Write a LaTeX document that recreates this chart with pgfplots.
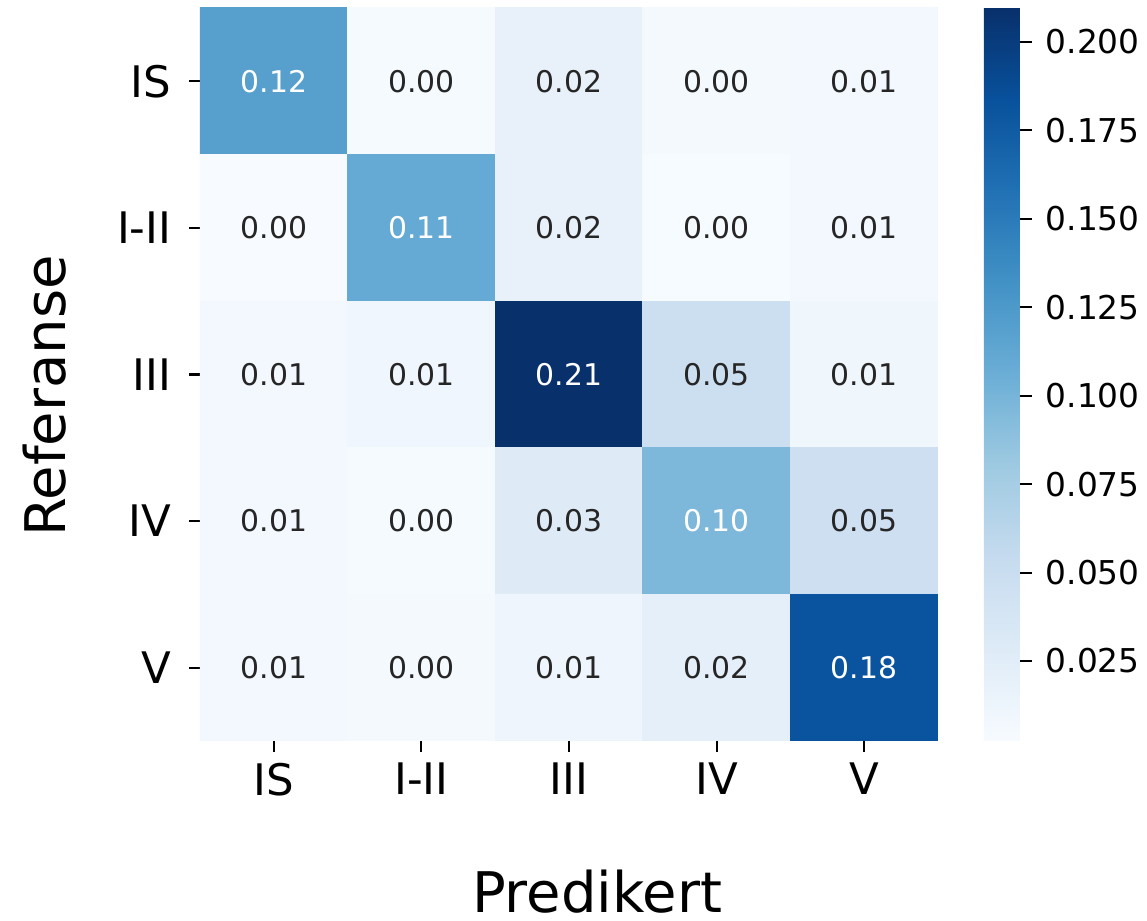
\documentclass[border=0pt]{standalone}
\usepackage{pgfplots}
\pgfplotsset{compat=1.18}
\usepackage{fontspec}
\setmainfont{DejaVu Sans}
\definecolor{darktext}{RGB}{38,38,38}
\pgfplotsset{
  colormap={sbblues}{rgb255=(247,251,255) rgb255=(222,235,247) rgb255=(198,219,239) rgb255=(158,202,225) rgb255=(107,174,214) rgb255=(66,146,198) rgb255=(33,113,181) rgb255=(8,81,156) rgb255=(8,48,107)}
}
\begin{document}
\begin{tikzpicture}
\useasboundingbox (-75pt,-67.5pt) rectangle (355.125pt,277.875pt);
\begin{axis}[
  at={(0pt,0pt)}, anchor=south west,
  width=276.75pt, height=274.875pt, scale only axis,
  xmin=-0.5, xmax=4.5, ymin=-0.5, ymax=4.5,
  y dir=reverse,
  colormap name=sbblues,
  point meta min=0.0024, point meta max=0.2096,
  axis line style={draw=none},
  xtick={0,1,2,3,4}, ytick={0,1,2,3,4},
  xticklabels={IS,I-II,III,IV,V},
  yticklabels={IS,I-II,III,IV,V},
  xtick pos=bottom, ytick pos=left,
  tick align=outside,
  major tick length=4.1pt,
  tick style={black, line width=0.8pt},
  ticklabel style={font=\fontsize{16.3}{18}\selectfont, text=black},
  xticklabel style={anchor=north, inner sep=0pt, yshift=-4pt},
  yticklabel style={anchor=east, inner sep=0pt, xshift=-6.5pt},
  xlabel={Predikert}, ylabel={Referanse},
  label style={font=\fontsize{21}{24}\selectfont, inner sep=0pt},
  xlabel style={at={(axis description cs:0.538,-0.2333)}, anchor=base},
  ylabel style={at={(axis description cs:-0.1829,0.4707)}, anchor=base, rotate=0},
  colorbar,
  colorbar style={
    at={(parent axis.north east)}, anchor=north west, xshift=8.7pt,
    width=13.5pt, height=274.875pt, scale only axis,
    axis line style={draw=none},
    ytick={0.025,0.05,0.075,0.1,0.125,0.15,0.175,0.2},
    ytick pos=right, tick align=outside, major tick length=4.5pt,
    tick style={black, line width=0.8pt},
    yticklabel style={font=\fontsize{12.3}{14}\selectfont, anchor=west, inner sep=0pt, xshift=5pt,
      /pgf/number format/.cd, fixed, fixed zerofill, precision=3, assume math mode=true},
  },
]
\addplot[matrix plot*, mesh/cols=5, point meta=explicit] table[meta=c] {
x y c
0 0 0.119
1 0 0.004
2 0 0.018
3 0 0.005
4 0 0.008
0 1 0.0024
1 1 0.110
2 1 0.018
3 1 0.003
4 1 0.008
0 2 0.008
1 2 0.010
2 2 0.2096
3 2 0.048
4 2 0.011
0 3 0.008
1 3 0.004
2 3 0.028
3 3 0.097
4 3 0.047
0 4 0.007
1 4 0.005
2 4 0.012
3 4 0.022
4 4 0.182
};
\addplot[only marks, mark=none, nodes near coords, point meta=explicit symbolic,
  nodes near coords style={anchor=center, font=\fontsize{11.2}{13}\selectfont, text=darktext}]
  table[meta=t] {
x y t
1 0 0.00
2 0 0.02
3 0 0.00
4 0 0.01
0 1 0.00
2 1 0.02
3 1 0.00
4 1 0.01
0 2 0.01
1 2 0.01
3 2 0.05
4 2 0.01
0 3 0.01
1 3 0.00
2 3 0.03
4 3 0.05
0 4 0.01
1 4 0.00
2 4 0.01
3 4 0.02
};
\addplot[only marks, mark=none, nodes near coords, point meta=explicit symbolic,
  nodes near coords style={anchor=center, font=\fontsize{11.2}{13}\selectfont, text=white}]
  table[meta=t] {
x y t
0 0 0.12
1 1 0.11
2 2 0.21
3 3 0.10
4 4 0.18
};
\end{axis}
\end{tikzpicture}
\end{document}
